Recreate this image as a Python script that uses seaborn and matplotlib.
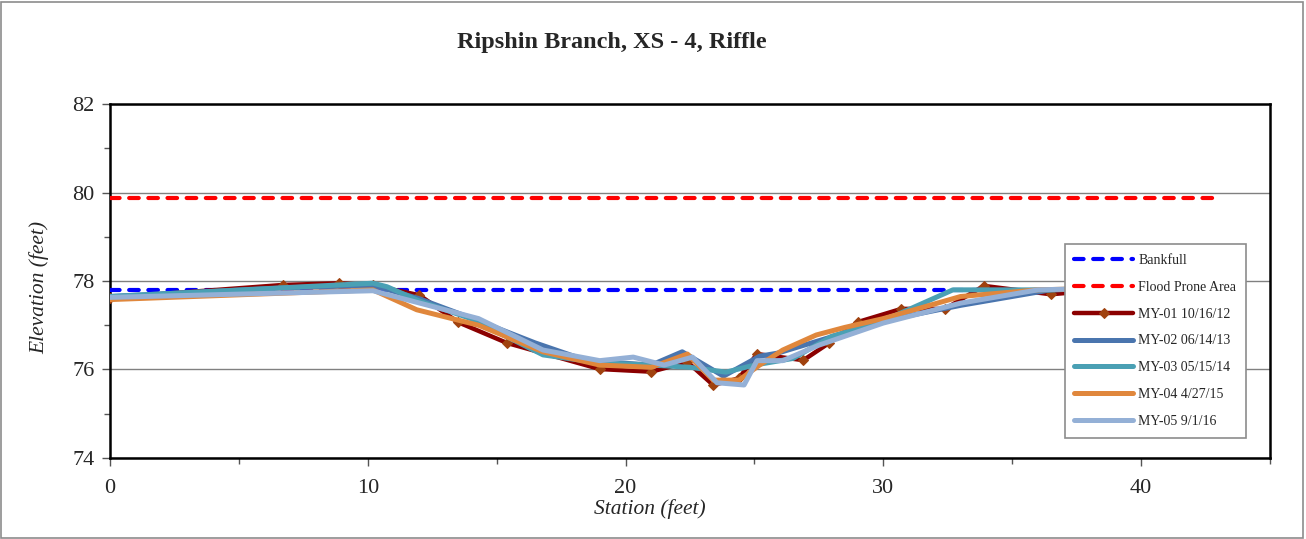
import pandas as pd
import matplotlib
matplotlib.use("Agg")
import matplotlib.pyplot as plt
from matplotlib.patches import Rectangle
from matplotlib.ticker import MultipleLocator
import seaborn as sns

# Cross-section survey data (station ft, elevation ft)
bankfull_x = [0, 42.8]
bankfull_y = [77.8, 77.8]
flood_x = [0, 42.8]
flood_y = [79.87, 79.87]

my01_x = [0, 6.7, 8.9, 10.2, 12.0, 13.5, 15.4, 19.0, 21.0, 22.4, 23.4, 24.4, 25.1, 26.9, 27.9, 29.0, 30.7, 32.4, 33.9, 36.5, 39.5]
my01_y = [77.62, 77.91, 77.95, 77.9, 77.68, 77.07, 76.6, 76.01, 75.95, 76.17, 75.65, 75.8, 76.35, 76.21, 76.6, 77.07, 77.37, 77.37, 77.89, 77.7, 77.85]

my02_x = [0, 7.0, 10.2, 12.0, 14.3, 16.5, 18.5, 21.0, 22.2, 23.8, 25.2, 25.9, 27.5, 30.0, 33.0, 34.5, 36.5, 39.5]
my02_y = [77.65, 77.85, 77.9, 77.6, 77.1, 76.6, 76.2, 76.1, 76.4, 75.85, 76.3, 76.37, 76.65, 77.1, 77.45, 77.6, 77.8, 77.85]

my03_x = [0, 10.2, 10.75, 12.0, 14.0, 16.8, 19.0, 21.0, 22.5, 23.9, 25.0, 26.5, 28.0, 30.0, 32.7, 36.5, 39.5]
my03_y = [77.65, 77.95, 77.87, 77.55, 77.15, 76.33, 76.15, 76.1, 76.05, 75.94, 76.1, 76.25, 76.75, 77.1, 77.8, 77.8, 77.85]

my04_x = [0, 10.2, 11.9, 14.3, 16.8, 19.0, 21.0, 22.4, 23.4, 24.4, 25.2, 26.1, 27.4, 28.5, 30.0, 33.0, 36.0, 39.5]
my04_y = [77.58, 77.8, 77.35, 77.0, 76.4, 76.1, 76.05, 76.35, 75.76, 75.76, 76.1, 76.44, 76.78, 76.95, 77.15, 77.65, 77.8, 77.85]

my05_x = [0, 10.2, 14.3, 16.8, 19.0, 20.3, 21.5, 22.6, 23.55, 24.6, 25.1, 26.1, 27.5, 30.0, 33.0, 36.0, 39.5]
my05_y = [77.63, 77.78, 77.15, 76.44, 76.2, 76.28, 76.1, 76.28, 75.7, 75.65, 76.2, 76.2, 76.55, 77.05, 77.5, 77.8, 77.85]

sns.set_style("white")
plt.rcParams["font.family"] = ["Liberation Serif", "DejaVu Serif"]

fig = plt.figure(figsize=(13.06, 5.39), dpi=100)
ax = fig.add_axes([0.0842, 0.1503, 0.8882, 0.6567])

# outer chart border
fig.patches.append(Rectangle((0.001, 0.002), 0.997, 0.995, transform=fig.transFigure,
                             fill=False, edgecolor="#8c8c8c", linewidth=1.2))

ref_lines = [
    (bankfull_x, bankfull_y, "#0000ff", "Bankfull"),
    (flood_x, flood_y, "#ff0000", "Flood Prone Area"),
]
for xs, ys, col, lab in ref_lines:
    sns.lineplot(x=xs, y=ys, ax=ax, color=col, linewidth=3, dashes=False,
                 label=lab, zorder=3)
for ln in ax.lines:
    ln.set_dashes([2.3, 2.3])
    ln.set_dash_capstyle("round")

sns.lineplot(x=my01_x, y=my01_y, ax=ax, color="#8b0000", linewidth=3.2, sort=False,
             marker="D", markersize=5, markerfacecolor="#a0420f", markeredgecolor="#a0420f",
             label="MY-01 10/16/12", zorder=4)

series = [
    (my02_x, my02_y, "#4a75ae", "MY-02 06/14/13"),
    (my03_x, my03_y, "#4aa0b4", "MY-03 05/15/14"),
    (my04_x, my04_y, "#e0873c", "MY-04 4/27/15"),
    (my05_x, my05_y, "#94b0d6", "MY-05 9/1/16"),
]
for i, (xs, ys, col, lab) in enumerate(series):
    sns.lineplot(x=xs, y=ys, ax=ax, color=col, linewidth=3.6, sort=False,
                 label=lab, zorder=5 + i)

ax.set_xlim(0, 45)
ax.set_ylim(74, 82)
ax.xaxis.set_major_locator(MultipleLocator(10))
ax.xaxis.set_minor_locator(MultipleLocator(5))
ax.yaxis.set_major_locator(MultipleLocator(2))
ax.yaxis.set_minor_locator(MultipleLocator(1))
ax.grid(axis="y", which="major", color="#808080", linewidth=1)
ax.set_axisbelow(True)
ax.tick_params(axis="both", which="major", direction="out", length=6, width=1,
               labelsize=16, left=True, bottom=True, color="#555555")
ax.tick_params(axis="both", which="minor", direction="out", length=4, width=1,
               left=True, bottom=True, color="#555555")
ax.tick_params(axis="x", pad=9)
ax.tick_params(axis="y", pad=5)
for sp in ax.spines.values():
    sp.set_color("black")
    sp.set_linewidth(1.8)

ax.set_xlabel("Station (feet)", fontsize=15.5, style="italic")
ax.xaxis.set_label_coords(0.4655, -0.115)
ax.set_ylabel("Elevation (feet)", fontsize=15.5, style="italic")
ax.yaxis.set_label_coords(-0.0527, 0.483)
fig.text(0.4686, 0.922, "Ripshin Branch, XS - 4, Riffle", ha="center", va="center",
         fontsize=17.5, fontweight="bold")

leg = ax.legend(loc="upper left", bbox_to_anchor=(0.823, 0.6045), borderaxespad=0,
                fontsize=10, frameon=True, fancybox=False, edgecolor="#8c8c8c",
                framealpha=1, handlelength=4.2, handletextpad=0.4, labelspacing=1.0,
                borderpad=0.7)
leg.get_frame().set_linewidth(1.2)
leg.set_zorder(20)

fig.savefig("out.png", dpi=100)
